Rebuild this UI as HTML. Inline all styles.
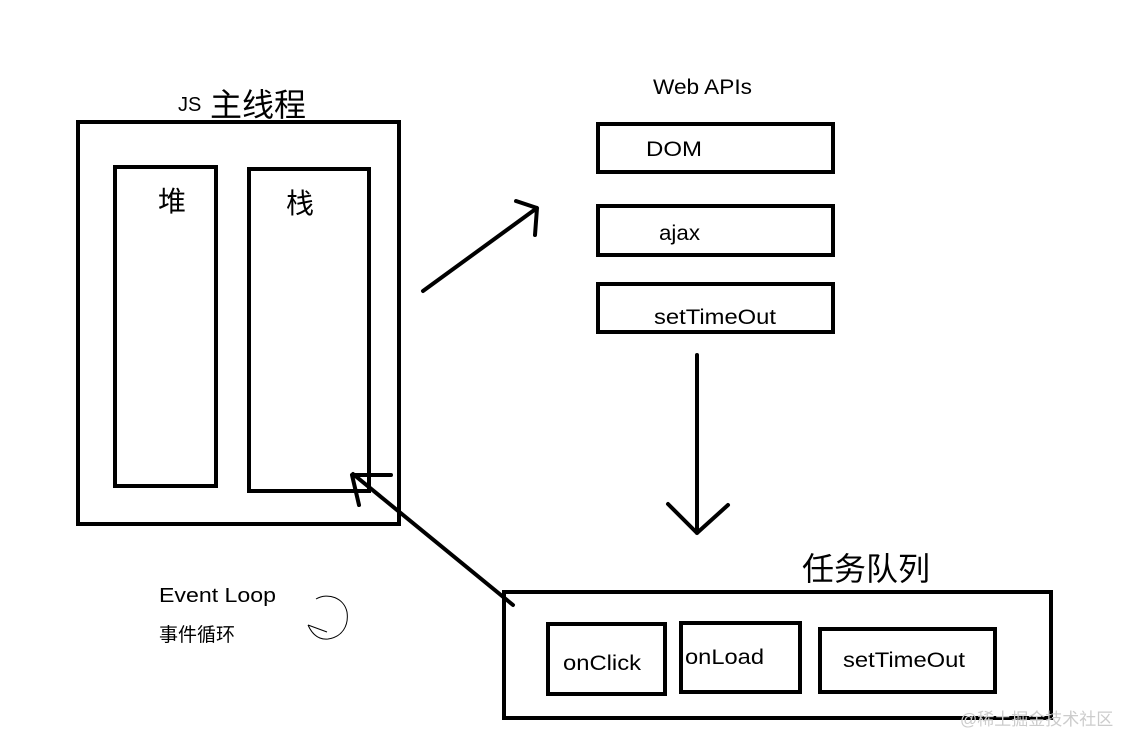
<!DOCTYPE html>
<html><head><meta charset="utf-8"><style>
html,body{margin:0;padding:0;background:#fff;}
svg text{font-family:"Liberation Sans","Noto Sans CJK SC",sans-serif;fill:#000;}
</style></head><body>
<svg width="1141" height="749" viewBox="0 0 1141 749" xmlns="http://www.w3.org/2000/svg">
<g fill="none" stroke="#000" stroke-width="4">
<rect x="78" y="122" width="321" height="402"/>
<rect x="115" y="167" width="101" height="319"/>
<rect x="249" y="169" width="120" height="322"/>
<rect x="598" y="124" width="235" height="48"/>
<rect x="598" y="206" width="235" height="49"/>
<rect x="598" y="284" width="235" height="48"/>
<rect x="504" y="592" width="547" height="126"/>
<rect x="548" y="624" width="117" height="70"/>
<rect x="681" y="623" width="119" height="69"/>
<rect x="820" y="629" width="175" height="63"/>
<g stroke-linecap="round" stroke-linejoin="round">
<path d="M423 291 L537 208 M516 201 L537 208 L535 235"/>
<path d="M697 355 L697 533 M668 504 L697 533 L728 505"/>
<path d="M513 605 L353 474 M352 475 L391 475 M352 475 L359 505"/>
</g>
</g>
<path d="M316 599 C328 592 344 598 347 612 C349 626 342 637 328 639 C318 640 312 634 308 625 M308 625 L327 632" fill="none" stroke="#000" stroke-width="1"/>
<text x="178" y="111" font-size="20">JS</text>
<text x="210" y="116" font-size="32">主线程</text>
<text x="158" y="211" font-size="28">堆</text>
<text x="286" y="213" font-size="28">栈</text>
<text x="653" y="94" font-size="21" textLength="99" lengthAdjust="spacingAndGlyphs">Web APIs</text>
<text x="646" y="156" font-size="21" textLength="56" lengthAdjust="spacingAndGlyphs">DOM</text>
<text x="659" y="240" font-size="21" textLength="41" lengthAdjust="spacingAndGlyphs">ajax</text>
<text x="654" y="324" font-size="21" textLength="122" lengthAdjust="spacingAndGlyphs">setTimeOut</text>
<text x="802" y="580" font-size="32">任务队列</text>
<text x="563" y="670" font-size="21" textLength="78" lengthAdjust="spacingAndGlyphs">onClick</text>
<text x="685" y="664" font-size="21" textLength="79" lengthAdjust="spacingAndGlyphs">onLoad</text>
<text x="843" y="667" font-size="21" textLength="122" lengthAdjust="spacingAndGlyphs">setTimeOut</text>
<text x="159" y="602" font-size="20" textLength="117" lengthAdjust="spacingAndGlyphs">Event Loop</text>
<text x="159" y="641" font-size="19">事件循环</text>
<text x="960" y="725" font-size="17" style="fill:#ccc">@稀土掘金技术社区</text>
</svg>
</body></html>
